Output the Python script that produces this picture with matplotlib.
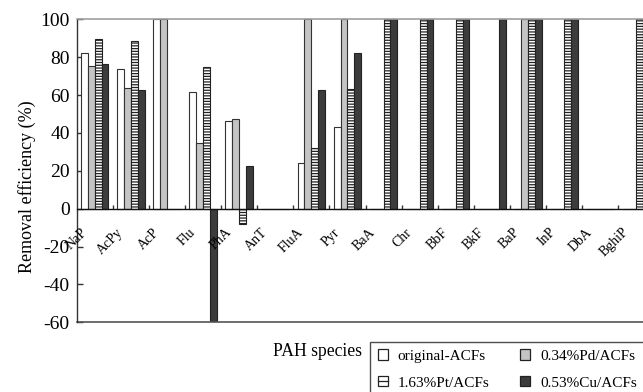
import numpy as np
import matplotlib
matplotlib.use('Agg')
import matplotlib.pyplot as plt
from matplotlib.patches import Patch, Rectangle
from matplotlib.lines import Line2D
from matplotlib.legend_handler import HandlerBase
from matplotlib.transforms import offset_copy

plt.rcParams['font.family'] = ['Liberation Serif', 'DejaVu Serif']
plt.rcParams['hatch.linewidth'] = 0.9

categories = ['NaP', 'AcPy', 'AcP', 'Flu', 'PhA', 'AnT', 'FluA', 'Pyr', 'BaA',
              'Chr', 'BbF', 'BkF', 'BaP', 'InP', 'DbA', 'BghiP']
original_acf = [82.4, 73.8, 100, 61.5, 46.3, 0, 24.3, 43.3, 0, 0, 0, 0, 0, 0, 0, 0]
pd_acf = [75.3, 63.9, 100, 34.9, 47.2, 0, 100, 100, 0, 0, 0, 0, 100, 0, 0, 0]
pt_acf = [89.4, 88.7, 0, 74.6, -8.1, 0, 31.9, 63.2, 100, 100, 100, 0, 100, 100, 0, 100]
cu_acf = [76.2, 62.7, 0, -59.3, 22.5, 0, 62.7, 82.0, 100, 100, 100, 100, 100, 100, 0, 100]
series_labels = ['original-ACFs', '0.34%Pd/ACFs', '1.63%Pt/ACFs', '0.53%Cu/ACFs']
yticks = [-60, -40, -20, 0, 20, 40, 60, 80, 100]

W, H = 643, 392
fig = plt.figure(figsize=(W / 100, H / 100), dpi=100)
left_px, right_px, top_px, bot_px = 76.7, 76.7 + 16 * 36.1, 19.3, 322.3
ax = fig.add_axes([left_px / W, 1 - bot_px / H, (right_px - left_px) / W, (bot_px - top_px) / H])

x = np.arange(len(categories)) + 0.5
bw = 0.19
styles = [
    dict(facecolor='white', edgecolor='#333333', hatch=None),
    dict(facecolor='#c4c4c4', edgecolor='#333333', hatch=None),
    dict(facecolor='white', edgecolor='#222222', hatch='------'),
    dict(facecolor='#3c3c3c', edgecolor='#222222', hatch=None),
]
data = [original_acf, pd_acf, pt_acf, cu_acf]
for k, (vals, st) in enumerate(zip(data, styles)):
    ax.bar(x + (k - 1.5) * bw, vals, width=bw, linewidth=0.8, zorder=2, **st)

ax.set_xlim(0, 16)
ax.set_ylim(-60, 100)
ax.set_yticks(yticks)
ax.set_yticklabels([str(t) for t in yticks], fontsize=14)
ax.tick_params(axis='y', direction='in', length=4, width=1, pad=5, color='#333333')

ax.spines['right'].set_visible(False)
ax.spines['top'].set_color('#a0a0a0')
ax.spines['top'].set_linewidth(1.2)
ax.spines['left'].set_color('#333333')
ax.spines['left'].set_linewidth(1.0)
ax.spines['bottom'].set_position(('data', 0))
ax.spines['bottom'].set_color('#111111')
ax.spines['bottom'].set_linewidth(1.0)
ax.spines['bottom'].set_zorder(3)
ax.set_xticks(np.arange(1, 16))
ax.set_xticklabels([])
ax.tick_params(axis='x', direction='in', length=3, width=1, color='#333333')
ax.axhline(-60, color='#555555', linewidth=1.2, clip_on=False)

lab_tr = offset_copy(ax.transData, fig=fig, x=-5.4, y=-17, units='dots')
for xi, cat in zip(x, categories):
    ax.text(xi, 0, cat, rotation=45, ha='right', va='top', fontsize=10,
            transform=lab_tr, zorder=4)

ax.set_ylabel('Removal efficiency (%)', fontsize=13)
ax.yaxis.set_label_coords(36 / W, 1 - 187 / H, transform=fig.transFigure)

fig.text(272.7 / W, 1 - 352 / H, 'PAH species', fontsize=12.7, ha='left', va='center')


class MidLineHandler(HandlerBase):
    def create_artists(self, legend, orig_handle, xdescent, ydescent, width,
                       height, fontsize, trans):
        rect = Rectangle((-xdescent, -ydescent), width, height,
                         facecolor='white', edgecolor='#222222', linewidth=0.9,
                         transform=trans)
        line = Line2D([-xdescent, -xdescent + width],
                      [-ydescent + height / 2] * 2, color='#222222',
                      linewidth=0.9, transform=trans)
        return [rect, line]


pt_handle = Patch(facecolor='white', edgecolor='#222222', linewidth=0.9)
handles = [
    Patch(facecolor='white', edgecolor='#222222', linewidth=0.9),
    pt_handle,
    Patch(facecolor='#c4c4c4', edgecolor='#222222', linewidth=0.9),
    Patch(facecolor='#3c3c3c', edgecolor='#222222', linewidth=0.9),
]
labels = [series_labels[0], series_labels[2], series_labels[1], series_labels[3]]
leg = fig.legend(handles, labels, ncol=2, loc='upper left',
                 bbox_to_anchor=(370 / W, 1 - 341.7 / H), fontsize=11,
                 frameon=True, fancybox=False, edgecolor='#222222',
                 handlelength=0.68, handleheight=0.68, handletextpad=0.63,
                 columnspacing=2.0, labelspacing=0.85, borderpad=0.5,
                 borderaxespad=0, handler_map={pt_handle: MidLineHandler()})
leg.get_frame().set_linewidth(1.0)

fig.savefig('out.png', dpi=100)
